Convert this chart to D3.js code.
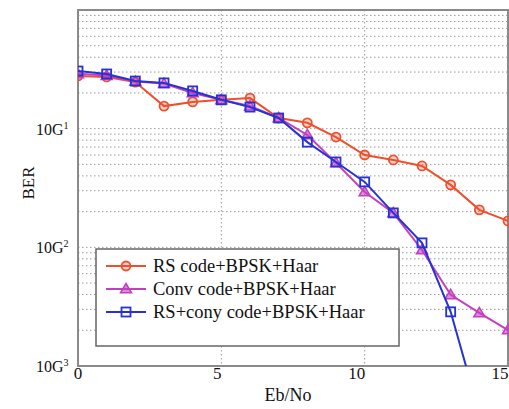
<!DOCTYPE html>
<html lang="en">
<head>
<meta charset="UTF-8">
<title>BER vs Eb/No</title>
<script src="https://d3js.org/d3.v7.min.js"></script>
<style>
  body { margin: 0; background: #fff; }
  text { font-family: "Liberation Serif", "DejaVu Serif", serif; }
</style>
</head>
<body>
<svg id="chart" width="509" height="409"></svg>
<script>
// Eb/No values (dB)
const ebno = [0, 1, 2, 3, 4, 5, 6, 7, 8, 9, 10, 11, 12, 13, 14, 15];
// BER series
const rsBer   = [0.278, 0.273, 0.247, 0.155, 0.168, 0.175, 0.181, 0.123, 0.112, 0.085, 0.060, 0.0545, 0.0485, 0.0336, 0.0207, 0.0167];
const convBer = [0.290, 0.280, 0.250, 0.240, 0.200, 0.175, 0.155, 0.123, 0.0885, 0.0515, 0.0293, 0.0195, 0.0095, 0.00398, 0.0028, 0.00201];
const bothBer = [0.306, 0.289, 0.252, 0.243, 0.208, 0.175, 0.152, 0.123, 0.077, 0.0524, 0.0356, 0.0195, 0.0109, 0.00286, 0.0004];
const seriesNames = ["RS code+BPSK+Haar", "Conv code+BPSK+Haar", "RS+cony code+BPSK+Haar"];
const xTicks = [0, 5, 10, 15];
const yTicks = [1e-1, 1e-2, 1e-3];
const yTickSup = ["1", "2", "3"];

const svg = d3.select("#chart");
const pLeft = 78, pRight = 508, pTop = 10, pBottom = 366;

const x = d3.scaleLinear().domain([0, 15]).range([pLeft, pRight]);
const y = d3.scaleLog().domain([1e-3, 1]).range([pBottom, pTop]);

// plot background
svg.append("rect").attr("x", pLeft).attr("y", pTop)
  .attr("width", pRight - pLeft).attr("height", pBottom - pTop).attr("fill", "#fff");

// horizontal grid (major + minor)
const yGrid = [];
for (let e = -3; e < 0; e++) for (let m = 1; m < 10; m++) yGrid.push(m * Math.pow(10, e));
svg.append("g").selectAll("line").data(yGrid.filter(v => v > 1e-3)).enter().append("line")
  .attr("x1", pLeft).attr("x2", pRight)
  .attr("y1", d => y(d)).attr("y2", d => y(d))
  .attr("stroke", "#9a9a9a").attr("stroke-width", 1).attr("stroke-dasharray", "1.5,2.5");

// vertical grid
svg.append("g").selectAll("line").data([5, 10]).enter().append("line")
  .attr("x1", d => x(d)).attr("x2", d => x(d))
  .attr("y1", pTop).attr("y2", pBottom)
  .attr("stroke", "#9a9a9a").attr("stroke-width", 1).attr("stroke-dasharray", "1.5,2.5");

// frame
svg.append("rect").attr("x", pLeft).attr("y", pTop)
  .attr("width", pRight - pLeft).attr("height", pBottom - pTop)
  .attr("fill", "none").attr("stroke", "#8a8a8a").attr("stroke-width", 2);

// clip for data lines
svg.append("clipPath").attr("id", "clip").append("rect")
  .attr("x", pLeft).attr("y", pTop).attr("width", pRight - pLeft + 4).attr("height", pBottom - pTop);

const series = [
  { name: seriesNames[0], values: rsBer,   color: "#ee4f2c", marker: "circle" },
  { name: seriesNames[1], values: convBer, color: "#c43fc0", marker: "triangle" },
  { name: seriesNames[2], values: bothBer, color: "#2632d2", marker: "square" }
];

const line = d3.line().x((d, i) => x(ebno[i])).y(d => y(d));

function drawMarker(g, type, cx, cy, color) {
  if (type === "circle") {
    g.append("circle").attr("cx", cx).attr("cy", cy).attr("r", 4.5)
      .attr("fill", color).attr("fill-opacity", 0.25).attr("stroke", color).attr("stroke-width", 1.8);
  } else if (type === "triangle") {
    const s = 5.5;
    g.append("path")
      .attr("d", `M${cx},${cy - s}L${cx + s},${cy + s * 0.7}L${cx - s},${cy + s * 0.7}Z`)
      .attr("fill", color).attr("fill-opacity", 0.6).attr("stroke", color).attr("stroke-width", 1.5);
  } else {
    g.append("rect").attr("x", cx - 4.5).attr("y", cy - 4.5).attr("width", 9).attr("height", 9)
      .attr("fill", "none").attr("stroke", color).attr("stroke-width", 1.8);
  }
}

const dataG = svg.append("g").attr("clip-path", "url(#clip)");
series.forEach(s => {
  dataG.append("path").datum(s.values).attr("d", line)
    .attr("fill", "none").attr("stroke", s.color).attr("stroke-width", 2);
  s.values.forEach((v, i) => {
    if (v >= 1e-3) drawMarker(dataG, s.marker, x(ebno[i]), y(v), s.color);
  });
});

// x tick labels
svg.append("g").selectAll("text").data(xTicks).enter().append("text")
  .attr("x", d => x(d) - (d === 0 ? 0 : d >= 10 ? 8 : 4)).attr("y", 379)
  .attr("text-anchor", "middle")
  .attr("font-size", 17).attr("fill", "#111").text(d => d);

// y tick labels "10G" with superscript
const yl = svg.append("g").selectAll("text").data(yTicks).enter().append("text")
  .attr("x", 36).attr("y", d => y(d) + 6)
  .attr("font-size", 16).attr("fill", "#111");
yl.append("tspan").text("10G");
yl.append("tspan").attr("font-size", 10).attr("dy", -6).text((d, i) => yTickSup[i]);

// axis titles
svg.append("text").attr("transform", "translate(34,183) rotate(-90)")
  .attr("text-anchor", "middle").attr("font-size", 17).attr("fill", "#111").text("BER");
svg.append("text").attr("x", 288).attr("y", 401)
  .attr("text-anchor", "middle").attr("font-size", 18).attr("fill", "#111").text("Eb/No");

// legend
const lg = svg.append("g");
lg.append("rect").attr("x", 96).attr("y", 249).attr("width", 303).attr("height", 97)
  .attr("fill", "#fff").attr("stroke", "#666").attr("stroke-width", 1.5);
series.forEach((s, i) => {
  const ly = 266 + i * 23;
  lg.append("line").attr("x1", 106).attr("x2", 146).attr("y1", ly).attr("y2", ly)
    .attr("stroke", s.color).attr("stroke-width", 2);
  drawMarker(lg, s.marker, 126, ly, s.color);
  lg.append("text").attr("x", 153).attr("y", ly + 6).attr("font-size", 18.5)
    .attr("fill", "#111").text(s.name);
});
</script>
</body>
</html>
